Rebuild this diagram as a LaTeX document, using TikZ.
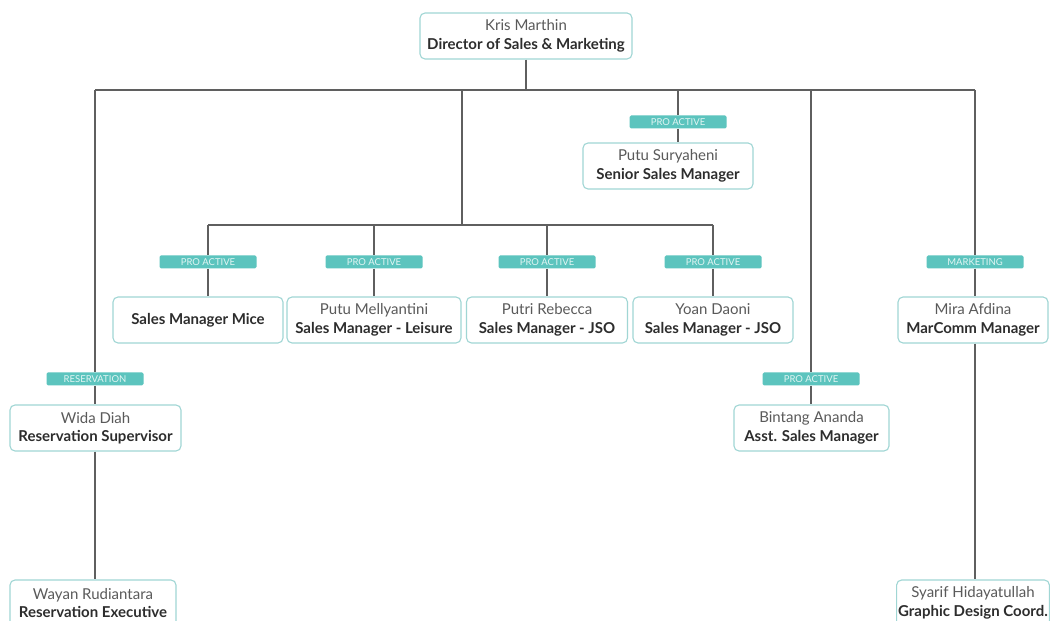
\documentclass[tikz,border=0pt]{standalone}
\usepackage{fontspec}
\setmainfont{Lato}
\usepackage{tikz}
\definecolor{frame}{RGB}{160, 214, 212}
\definecolor{tagfill}{RGB}{92, 196, 190}
\definecolor{tagtext}{RGB}{225, 245, 243}
\definecolor{wire}{RGB}{95, 95, 95}
\definecolor{title}{RGB}{45, 45, 45}
\definecolor{person}{RGB}{90, 90, 90}
\usetikzlibrary{positioning, calc}

\newcommand{\who}[2]{{\color{person}#1}\\{\bfseries\color{title}#2}}

\begin{document}
\begin{tikzpicture}[
    x=1pt, y=1pt,
    staff/.style={draw=frame, fill=white, rectangle, rounded corners=5pt, line width=1.1pt,
                  align=center, inner xsep=4pt, minimum height=46pt,
                  font=\fontsize{15}{18.5}\selectfont},
    tag/.style={fill=tagfill, rectangle, rounded corners=1.5pt, minimum width=97pt,
                minimum height=13pt, inner sep=0pt, text=tagtext,
                font=\fontsize{9.5}{10}\selectfont},
    wire/.style={draw=wire, line width=1.1pt}
]
    \clip (0,0) rectangle (1052,621);
    \fill[white] (0,0) rectangle (1052,621);

    % Nodes
    \node[staff, minimum width=212pt] (dir) at (526,585) {\who{Kris Marthin}{Director of Sales \& Marketing}};

    \node[tag] (lsury) at (678,499) {PRO ACTIVE};
    \node[staff, minimum width=170pt] (sury) at (668,455) {\who{Putu Suryaheni}{Senior Sales Manager}};

    \node[tag] (lmice) at (208,359) {PRO ACTIVE};
    \node[tag] (lmell) at (374,359) {PRO ACTIVE};
    \node[tag] (lreb)  at (547,359) {PRO ACTIVE};
    \node[tag] (lyoan) at (713,359) {PRO ACTIVE};
    \node[tag] (lmira) at (975,359) {MARKETING};
    \node[staff, minimum width=170pt] (mice) at (198,301) {\bfseries\color{title}Sales Manager Mice};
    \node[staff, minimum width=174pt] (mell) at (374,301) {\who{Putu Mellyantini}{Sales Manager - Leisure}};
    \node[staff, minimum width=161pt] (reb)  at (547,301) {\who{Putri Rebecca}{Sales Manager - JSO}};
    \node[staff, minimum width=160pt] (yoan) at (713,301) {\who{Yoan Daoni}{Sales Manager - JSO}};
    \node[staff, minimum width=150pt] (mira) at (973,301) {\who{Mira Afdina}{MarComm Manager}};

    \node[tag] (lwida) at (95,242) {RESERVATION};
    \node[tag] (lbint) at (811,242) {PRO ACTIVE};
    \node[staff, minimum width=171pt] (wida) at (95.5,193) {\who{Wida Diah}{Reservation Supervisor}};
    \node[staff, minimum width=155pt] (bint) at (811.5,193) {\who{Bintang Ananda}{Asst. Sales Manager}};

    \node[staff, minimum width=166pt] (wayan) at (93,18) {\who{Wayan Rudiantara}{Reservation Executive}};
    \node[staff, minimum width=152pt, inner xsep=1.5pt] (syarif) at (973,18) {\who{Syarif Hidayatullah}{Graphic Design Coord.}};

    \coordinate (bus) at (526,531);
    \coordinate (sub) at (462,396);

    % Connectors
    \draw[wire] (dir.south) -- (bus);
    \draw[wire] (lwida |- bus) -- (lmira |- bus);
    \draw[wire] (lwida |- bus) -- (lwida.north);
    \draw[wire] (lwida.south) -- (lwida |- wida.north);
    \draw[wire] (lwida |- wida.south) -- (lwida |- wayan.north);
    \draw[wire] (lsury |- bus) -- (lsury.north);
    \draw[wire] (lsury.south) -- (lsury |- sury.north);
    \draw[wire] (lbint |- bus) -- (lbint.north);
    \draw[wire] (lbint.south) -- (lbint |- bint.north);
    \draw[wire] (lmira |- bus) -- (lmira.north);
    \draw[wire] (lmira.south) -- (lmira |- mira.north);
    \draw[wire] (lmira |- mira.south) -- (lmira |- syarif.north);
    \draw[wire] (sub |- bus) -- (sub);
    \draw[wire] (lmice |- sub) -- (lyoan |- sub);
    \foreach \l/\b in {lmice/mice, lmell/mell, lreb/reb, lyoan/yoan} {
        \draw[wire] (\l |- sub) -- (\l.north);
        \draw[wire] (\l.south) -- (\l |- \b.north);
    }
\end{tikzpicture}
\end{document}
